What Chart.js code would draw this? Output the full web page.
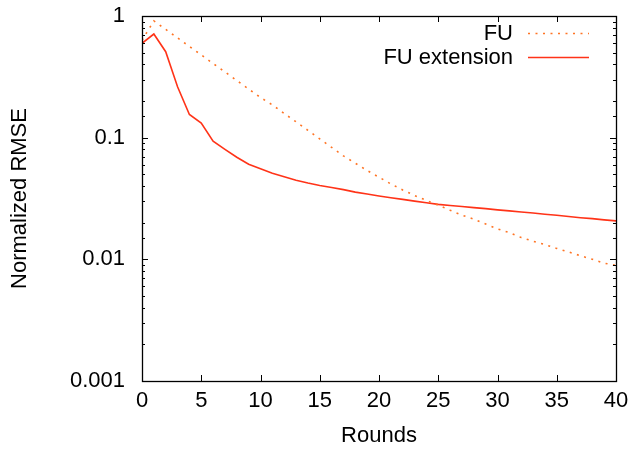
<!DOCTYPE html>
<html>
<head>
<meta charset="utf-8">
<script src="https://cdn.jsdelivr.net/npm/chart.js@4/dist/chart.umd.min.js"></script>
<style>
html,body{margin:0;padding:0;background:#fff;}
#wrap{width:634px;height:449px;position:relative;}
</style>
</head>
<body>
<div id="wrap"><canvas id="c" width="634" height="449"></canvas></div>
<script>
const rounds = [0,1,2,3,4,5,6,7,8,9,10,11,12,13,14,15,16,17,18,19,20,21,22,23,24,25,26,27,28,29,30,31,32,33,34,35,36,37,38,39,40];
const fuValues = [0.631,0.912,0.776,0.661,0.562,0.479,0.407,0.347,0.295,0.251,0.214,0.186,0.158,0.135,0.115,0.0977,0.0832,0.0708,0.0617,0.0537,0.0473,0.0417,0.0372,0.0335,0.0305,0.0279,0.0253,0.0231,0.0214,0.0195,0.0178,0.0166,0.0151,0.0141,0.0132,0.0123,0.0115,0.0107,0.0100,0.0093,0.0089];
const fuExtValues = [0.597,0.711,0.509,0.262,0.155,0.132,0.0934,0.080,0.069,0.0604,0.0555,0.0509,0.0477,0.0447,0.0424,0.0405,0.039,0.0374,0.0357,0.0344,0.0332,0.0321,0.0311,0.0301,0.0292,0.0283,0.0277,0.0272,0.0266,0.0261,0.0255,0.0250,0.0245,0.0240,0.0235,0.0230,0.0225,0.0220,0.0216,0.0211,0.0207];
const seriesLabels = ['FU','FU extension'];
const yTickLabels = ['0.001','0.01','0.1','1'];
const xTickValues = [0,5,10,15,20,25,30,35,40];

const FONT = '"Liberation Sans", Arial, Helvetica, sans-serif';
const FS = 22;
const TARGET = { left: 142, top: 16, right: 616, bottom: 381 };

function isMajor(v){ const l = Math.log10(v); return Math.abs(l - Math.round(l)) < 1e-9; }

const frameTicks = {
  id: 'frameTicks',
  afterDatasetsDraw(chart){
    const {ctx, chartArea: a, scales: {x, y}} = chart;
    ctx.save();
    ctx.strokeStyle = '#000';
    ctx.lineWidth = 1;
    const line = (x1,y1,x2,y2)=>{ctx.beginPath();ctx.moveTo(x1,y1);ctx.lineTo(x2,y2);ctx.stroke();};
    x.ticks.forEach(t=>{
      const px = Math.round(x.getPixelForValue(t.value)) + 0.5;
      line(px, a.bottom, px, a.bottom - 6);
      line(px, a.top, px, a.top + 6);
    });
    y.ticks.forEach(t=>{
      const py = Math.round(y.getPixelForValue(t.value)) + 0.5;
      const len = isMajor(t.value) ? 6 : 3;
      line(a.left, py, a.left + len, py);
      line(a.right, py, a.right - len, py);
    });
    ctx.lineWidth = 1.3;
    ctx.strokeRect(Math.round(a.left)+0.5, Math.round(a.top)+0.5, Math.round(a.right - a.left), Math.round(a.bottom - a.top));
    // legend
    ctx.font = FS + 'px ' + FONT;
    ctx.fillStyle = '#000';
    ctx.textAlign = 'right';
    ctx.textBaseline = 'middle';
    const ys = [33, 57];
    chart.data.datasets.forEach((ds, i)=>{
      ctx.fillText(ds.label, 513, ys[i] + 1);
      ctx.save();
      ctx.strokeStyle = ds.borderColor;
      ctx.lineWidth = ds.borderWidth;
      ctx.setLineDash(ds.borderDash || []);
      line(528, ys[i] + 0.5, 589, ys[i] + 0.5);
      ctx.restore();
    });
    ctx.restore();
  }
};

const chart = new Chart(document.getElementById('c'), {
  type: 'line',
  data: {
    datasets: [
      {
        label: seriesLabels[0],
        data: rounds.map((r,i)=>({x:r, y:fuValues[i]})),
        borderColor: '#ff7424',
        borderWidth: 1.6,
        borderDash: [2, 5.5],
        pointRadius: 0,
        tension: 0,
        fill: false
      },
      {
        label: seriesLabels[1],
        data: rounds.map((r,i)=>({x:r, y:fuExtValues[i]})),
        borderColor: '#ff3318',
        borderWidth: 1.6,
        pointRadius: 0,
        tension: 0,
        fill: false
      }
    ]
  },
  options: {
    responsive: false,
    animation: false,
    layout: { padding: { left: 0, right: 634 - TARGET.right, top: TARGET.top, bottom: 0 } },
    plugins: { legend: { display: false }, tooltip: { enabled: false } },
    scales: {
      x: {
        type: 'linear',
        min: 0, max: 40,
        afterBuildTicks: s => { s.ticks = xTickValues.map(v=>({value:v})); },
        grid: { display: false, drawTicks: false },
        border: { display: false },
        ticks: { color: '#000', font: { family: FONT, size: FS }, padding: 7, maxRotation: 0, autoSkip: false },
        title: { display: true, text: 'Rounds', color: '#000', font: { family: FONT, size: FS }, padding: { top: 0, bottom: 0 } },
        afterFit: s => { s.height = 449 - TARGET.bottom; s.paddingLeft = 0; s.paddingRight = 0; }
      },
      y: {
        type: 'logarithmic',
        min: 0.001, max: 1,
        grid: { display: false, drawTicks: false },
        border: { display: false },
        ticks: {
          color: '#000', font: { family: FONT, size: FS }, padding: 17, autoSkip: false,
          callback: v => {
            if (!isMajor(v)) return '';
            const idx = Math.round(Math.log10(v)) + 3;
            return yTickLabels[idx];
          }
        },
        title: { display: true, text: 'Normalized RMSE', color: '#000', font: { family: FONT, size: FS }, padding: { top: 7, bottom: 0 } },
        afterFit: s => { s.width = TARGET.left; s.paddingTop = 0; s.paddingBottom = 0; }
      }
    }
  },
  plugins: [frameTicks]
});
</script>
</body>
</html>
